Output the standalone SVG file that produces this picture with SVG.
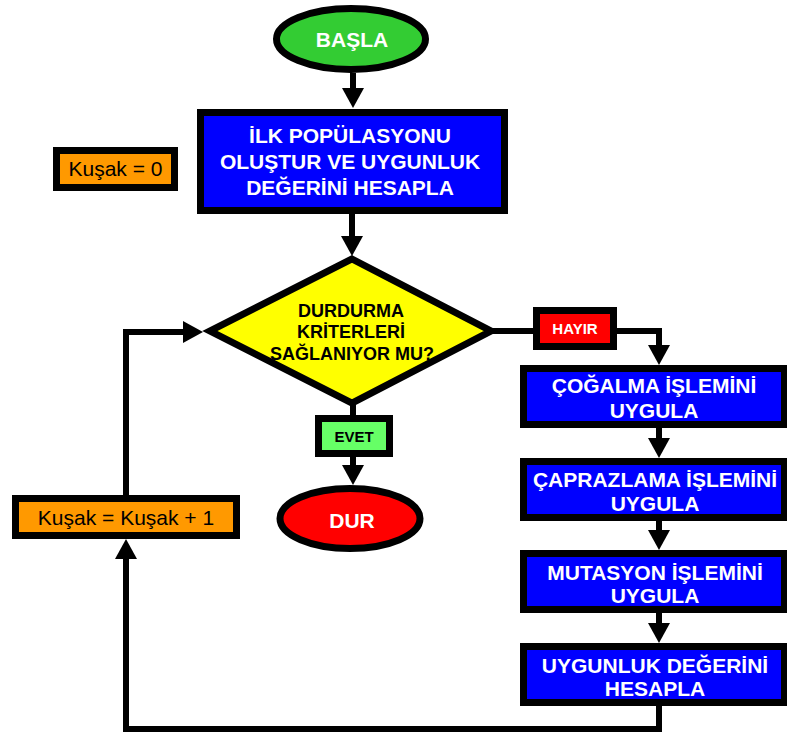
<svg xmlns="http://www.w3.org/2000/svg" width="787" height="735" viewBox="0 0 787 735">
  <style>
    .box { stroke: #000; stroke-width: 7; }
    .blue { fill: #0000FF; }
    .orange { fill: #FF9900; }
    .t { font-family: "Liberation Sans", Arial, sans-serif; text-anchor: middle; }
    .tb { font-weight: bold; }
    .w { fill: #FFFFFF; }
    .k { fill: #000000; }
    .conn { fill: none; stroke: #000; stroke-width: 6; stroke-linejoin: miter; stroke-linecap: butt; }
  </style>
  <defs>
    <marker id="arrow" markerUnits="userSpaceOnUse" markerWidth="20" markerHeight="22" refX="0" refY="11" orient="auto" overflow="visible">
      <path d="M0,0 L20,11 L0,22 Z" fill="#000"/>
    </marker>
  </defs>
  <rect width="787" height="735" fill="#FFFFFF"/>

  <!-- connectors -->
  <g id="connectors">
    <polyline class="conn" points="353,73 353,88" marker-end="url(#arrow)"/>
    <polyline class="conn" points="352,214 352,236" marker-end="url(#arrow)"/>
    <polyline class="conn" points="492,331 536,331"/>
    <polyline class="conn" points="614,331 659,331 659,345" marker-end="url(#arrow)"/>
    <polyline class="conn" points="659,428 659,438" marker-end="url(#arrow)"/>
    <polyline class="conn" points="659,520 659,530" marker-end="url(#arrow)"/>
    <polyline class="conn" points="659,613 659,623" marker-end="url(#arrow)"/>
    <polyline class="conn" points="659,705 659,729 126,729 126,559" marker-end="url(#arrow)"/>
    <polyline class="conn" points="126,495 126,332 183,332" marker-end="url(#arrow)"/>
    <polyline class="conn" points="353,403 353,418"/>
    <polyline class="conn" points="353,457 353,465" marker-end="url(#arrow)"/>
  </g>

  <!-- start -->
  <g id="basla">
    <ellipse cx="351" cy="39" rx="74.5" ry="30.5" fill="#33CC33" stroke="#000" stroke-width="7"/>
    <text class="t tb w" x="352" y="47" font-size="21">BAŞLA</text>
  </g>

  <!-- initial population -->
  <g id="ilk-populasyon">
    <rect class="box blue" x="200.5" y="112.5" width="304" height="98"/>
    <text class="t tb w" x="350" y="143" font-size="21">İLK POPÜLASYONU</text>
    <text class="t tb w" x="350" y="169" font-size="21">OLUŞTUR VE UYGUNLUK</text>
    <text class="t tb w" x="350" y="195" font-size="21">DEĞERİNİ HESAPLA</text>
  </g>

  <!-- generation counter init -->
  <g id="kusak-0">
    <rect class="box orange" x="56.5" y="150.5" width="118" height="37"/>
    <text class="t k" x="115.5" y="176" font-size="21">Kuşak = 0</text>
  </g>

  <!-- stopping criteria decision -->
  <g id="karar">
    <polygon points="352,259 491,331 352,403 210,331" fill="#FFFF00" stroke="#000" stroke-width="7" stroke-linejoin="miter"/>
    <text class="t tb k" x="351" y="317" font-size="18">DURDURMA</text>
    <text class="t tb k" x="351" y="338" font-size="18">KRİTERLERİ</text>
    <text class="t tb k" x="352" y="360" font-size="18">SAĞLANIYOR MU?</text>
  </g>

  <!-- no branch label -->
  <g id="hayir">
    <rect class="box" x="536.5" y="310.5" width="77" height="36" fill="#FF0000"/>
    <text class="t tb w" x="575" y="334" font-size="15">HAYIR</text>
  </g>

  <!-- yes branch label -->
  <g id="evet">
    <rect class="box" x="318.5" y="418.5" width="71" height="35" fill="#66FF66"/>
    <text class="t tb k" x="354" y="442" font-size="15">EVET</text>
  </g>

  <!-- stop -->
  <g id="dur">
    <ellipse cx="350" cy="518.5" rx="70" ry="30" fill="#FF0000" stroke="#000" stroke-width="7"/>
    <text class="t tb w" x="352" y="528" font-size="21">DUR</text>
  </g>

  <!-- generation counter increment -->
  <g id="kusak-arttir">
    <rect class="box orange" x="15.5" y="498.5" width="221" height="37"/>
    <text class="t k" x="126" y="525" font-size="21">Kuşak = Kuşak + 1</text>
  </g>

  <!-- genetic operators -->
  <g id="cogalma">
    <rect class="box blue" x="523.5" y="368.5" width="261" height="56"/>
    <text class="t tb w" x="654" y="393" font-size="21">ÇOĞALMA İŞLEMİNİ</text>
    <text class="t tb w" x="654" y="418" font-size="21">UYGULA</text>
  </g>

  <g id="caprazlama">
    <rect class="box blue" x="523.5" y="461.5" width="261" height="56"/>
    <text class="t tb w" x="655" y="487" font-size="21">ÇAPRAZLAMA İŞLEMİNİ</text>
    <text class="t tb w" x="655" y="511" font-size="21">UYGULA</text>
  </g>

  <g id="mutasyon">
    <rect class="box blue" x="523.5" y="553.5" width="261" height="56"/>
    <text class="t tb w" x="655" y="580" font-size="21">MUTASYON İŞLEMİNİ</text>
    <text class="t tb w" x="655" y="603" font-size="21">UYGULA</text>
  </g>

  <g id="uygunluk">
    <rect class="box blue" x="523.5" y="646.5" width="261" height="56"/>
    <text class="t tb w" x="655" y="673" font-size="21">UYGUNLUK DEĞERİNİ</text>
    <text class="t tb w" x="655" y="696" font-size="21">HESAPLA</text>
  </g>
</svg>
